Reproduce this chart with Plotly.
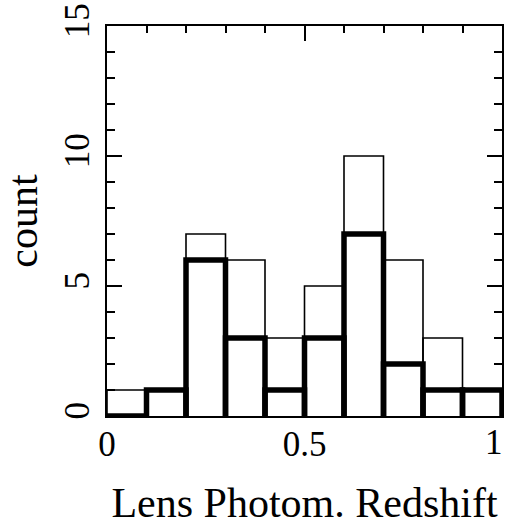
import plotly.graph_objects as go

bin_left = [0.0, 0.1, 0.2, 0.3, 0.4, 0.5, 0.6, 0.7, 0.8, 0.9]
bin_width = 0.1
all_counts = [1, 1, 7, 6, 3, 5, 10, 6, 3, 1]
sub_counts = [0, 1, 6, 3, 1, 3, 7, 2, 1, 1]

x_ticks = [0, 0.5, 1]
x_tick_text = ["0", "0.5", "1"]
y_ticks = [0, 5, 10, 15]
x_title = "Lens Photom. Redshift"
y_title = "count"

FONT = "Liberation Serif"
FS = 35


def open_bars(lefts, heights, width):
    xs, ys = [], []
    for x0, h in zip(lefts, heights):
        x1 = x0 + width
        xs += [x0, x0, x1, x1, None]
        ys += [0, h, h, 0, None]
    return xs, ys


fig = go.Figure()
xa, ya = open_bars(bin_left, all_counts, bin_width)
fig.add_trace(go.Scatter(x=xa, y=ya, mode="lines",
                         line=dict(color="black", width=1.6),
                         showlegend=False, connectgaps=False))
xs, ys = open_bars(bin_left, sub_counts, bin_width)
fig.add_trace(go.Scatter(x=xs, y=ys, mode="lines",
                         line=dict(color="black", width=5.5),
                         showlegend=False, connectgaps=False))

# last x tick label drawn right-aligned so it stays inside the page
fig.add_annotation(
    x=x_ticks[-1], y=0, xref="x", yref="paper",
    text=x_tick_text[-1], showarrow=False,
    xanchor="right", yanchor="top", xshift=3, yshift=-5,
    font=dict(family=FONT, size=FS, color="black"),
)

fig.update_layout(
    width=505, height=526,
    margin=dict(l=107, r=3, t=26, b=110),
    plot_bgcolor="white", paper_bgcolor="white",
    font=dict(family=FONT, size=FS, color="black"),
)
fig.update_xaxes(
    range=[0, 1], tickvals=x_ticks, ticktext=x_tick_text[:-1] + [""],
    showline=True, linecolor="black", linewidth=2, mirror="allticks",
    ticks="inside", ticklen=15, tickwidth=2, tickcolor="black",
    minor=dict(dtick=0.1, ticks="inside", ticklen=7, tickwidth=2, tickcolor="black"),
    showgrid=False, zeroline=False, automargin=False,
    title=dict(text=x_title, standoff=50),
    ticklabelstandoff=-4,
)
fig.update_yaxes(
    range=[0, 15], tickvals=y_ticks,
    showline=True, linecolor="black", linewidth=2, mirror="allticks",
    ticks="inside", ticklen=15, tickwidth=2, tickcolor="black",
    minor=dict(dtick=1, ticks="inside", ticklen=8, tickwidth=2, tickcolor="black"),
    showgrid=False, zeroline=False, tickangle=-90, automargin=False,
    title=dict(text=y_title, standoff=29),
    ticklabelstandoff=2,
)
fig.write_html("out.html")
